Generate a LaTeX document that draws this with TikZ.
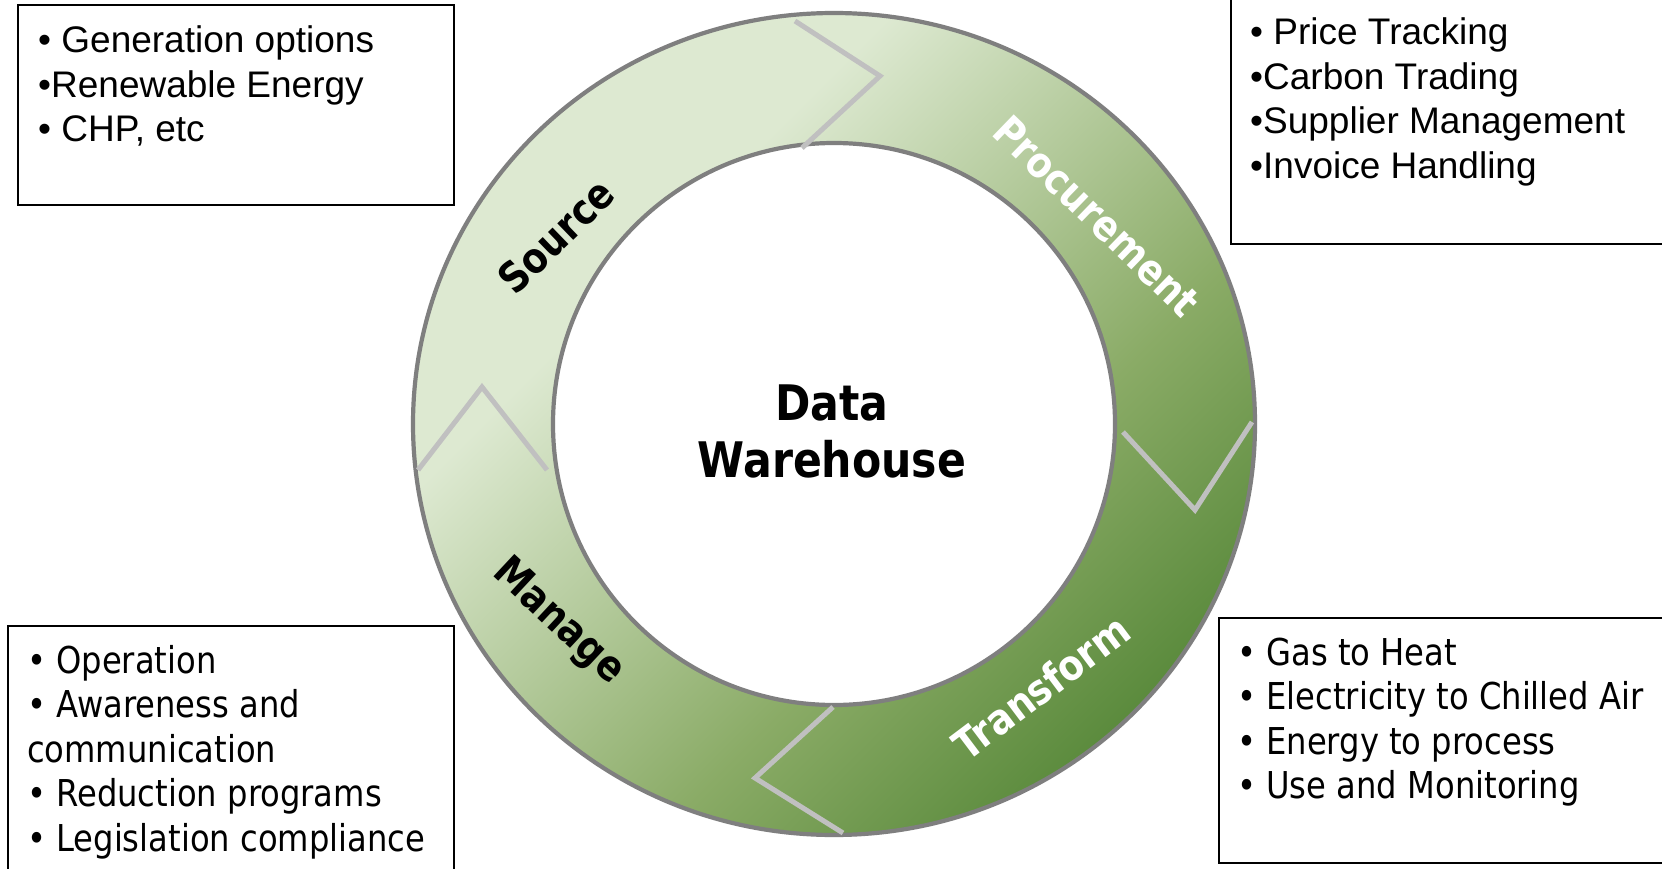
\documentclass[tikz,border=0pt]{standalone}
\usepackage{fontspec}
\setmainfont{Liberation Sans}
\newfontfamily\tah[FakeStretch=0.87]{DejaVu Sans}
\definecolor{gl}{HTML}{DDE9D1}
\definecolor{gm}{HTML}{8AAB66}
\definecolor{gd}{HTML}{5A8A3C}
\definecolor{ringedge}{HTML}{7F7F7F}
\definecolor{chev}{HTML}{C0C0C0}
\pgfdeclarehorizontalshading{ringgrad}{100bp}{color(0bp)=(gl); color(39.6bp)=(gl); color(57bp)=(gm); color(67.5bp)=(gd); color(100bp)=(gd)}
\tikzset{
  box/.style={draw=black, line width=2pt, fill=none, inner sep=0pt, anchor=north west},
  ariall/.style={anchor=base west, inner sep=0pt, font=\fontsize{37}{44.5}\selectfont},
  tahl/.style={anchor=base west, inner sep=0pt, font=\tah\fontsize{37}{44.5}\selectfont},
  lbl/.style={inner sep=0pt, font=\tah\bfseries\fontsize{42}{50}\selectfont},
  chevline/.style={draw=chev, line width=5pt},
  edge/.style={draw=ringedge, line width=4.2pt}
}
\begin{document}
\begin{tikzpicture}[x=1pt,y=-1pt]
\useasboundingbox (0,0) rectangle (1662,869);
\fill[white] (0,0) rectangle (1662,869);
\coordinate (c) at (834,424);
% ring fill
\begin{scope}[even odd rule]
\clip (c) ellipse [x radius=421pt, y radius=411pt] (c) circle [radius=281pt];
\begin{scope}[transform canvas={rotate around={-45:(c)}}]
\shade[shading=ringgrad] (234,-176) rectangle (1434,1024);
\end{scope}
\end{scope}
% ring edges
\draw[edge] (c) ellipse [x radius=421pt, y radius=411pt];
\draw[edge] (c) circle [radius=281pt];
% chevrons
\draw[chevline] (795,21) -- (880,76) -- (802,148);
\draw[chevline] (418,470) -- (482,387) -- (547,470);
\draw[chevline] (1123,432) -- (1195,510) -- (1252,422);
\draw[chevline] (833,707) -- (755,778) -- (843,833);
% ring labels
\node[lbl, text=black, rotate=44] (src) at (556,236) {Source};
\node[lbl, text=white, rotate=-44] (proc) at (1097,216) {Procurement};
\node[lbl, text=white, rotate=37] (trans) at (1041,687) {Transform};
\node[lbl, text=black, rotate=-43] (man) at (558,622) {Manage};
\node[inner sep=0pt, align=center, font=\tah\bfseries\fontsize{49}{57}\selectfont] (dw) at (832,431) {Data\\Warehouse};
% boxes
\node[box, minimum width=436pt, minimum height=200pt] (b1) at (17,4) {};
\node[box, minimum width=450pt, minimum height=255pt] (b2) at (1230,-12) {};
\node[box, minimum width=446pt, minimum height=260pt] (b3) at (7,625) {};
\node[box, minimum width=460pt, minimum height=245pt] (b4) at (1218,617) {};
% box texts
\node[ariall] (b1a) at (38,53) {• Generation options};
\node[ariall] (b1b) at (38,97.5) {•Renewable Energy};
\node[ariall] (b1c) at (38,142) {• CHP, etc};
\node[ariall] (b2a) at (1250,45) {• Price Tracking};
\node[ariall] (b2b) at (1250,89.5) {•Carbon Trading};
\node[ariall] (b2c) at (1250,134) {•Supplier Management};
\node[ariall] (b2d) at (1250,178.5) {•Invoice Handling};
\node[tahl] (b3a) at (27,673) {• Operation};
\node[tahl] (b3b) at (27,717.5) {• Awareness and};
\node[tahl] (b3c) at (27,762) {communication};
\node[tahl] (b3d) at (27,806.5) {• Reduction programs};
\node[tahl] (b3e) at (27,851) {• Legislation compliance};
\node[tahl] (b4a) at (1237,665) {• Gas to Heat};
\node[tahl] (b4b) at (1237,709.5) {• Electricity to Chilled Air};
\node[tahl] (b4c) at (1237,754) {• Energy to process};
\node[tahl] (b4d) at (1237,798.5) {• Use and Monitoring};
\end{tikzpicture}
\end{document}
